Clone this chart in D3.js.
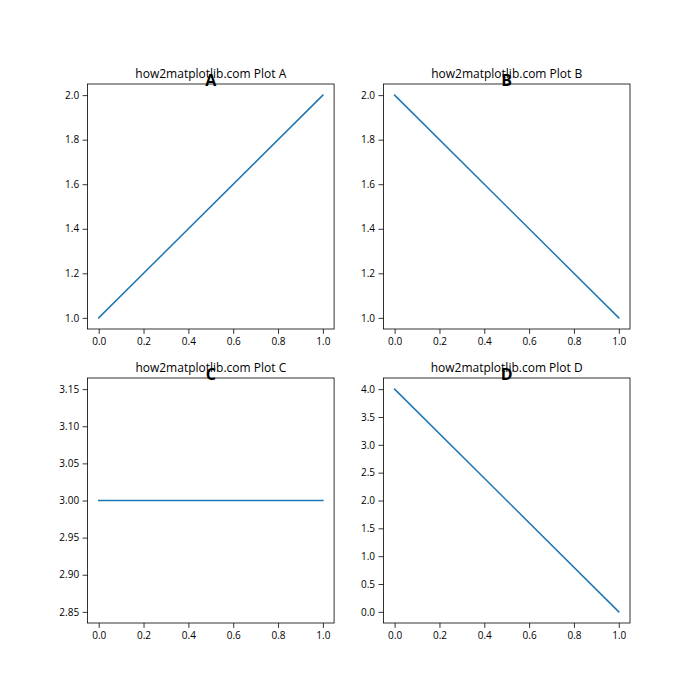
<!DOCTYPE html>
<html><head><meta charset="utf-8">
<script src="https://cdn.jsdelivr.net/npm/d3@7"></script>
<style>body{margin:0;background:#fff}</style>
</head><body>
<svg id="c" width="700" height="700"></svg>
<script>
const xValues = [0, 1];
const seriesA = [1, 2];
const seriesB = [2, 1];
const seriesC = [3, 3];
const seriesD = [4, 0];
const titles = ["how2matplotlib.com Plot A","how2matplotlib.com Plot B","how2matplotlib.com Plot C","how2matplotlib.com Plot D"];
const letters = ["A","B","C","D"];
const xTicks = [0, 0.2, 0.4, 0.6, 0.8, 1.0];
const yTicksA = [1.0, 1.2, 1.4, 1.6, 1.8, 2.0];
const yTicksC = [2.85, 2.90, 2.95, 3.00, 3.05, 3.10, 3.15];
const yTicksD = [0.0, 0.5, 1.0, 1.5, 2.0, 2.5, 3.0, 3.5, 4.0];
const yDomains = [[0.95, 2.05],[0.95, 2.05],[2.835, 3.165],[-0.2, 4.2]];
const yTickSets = [yTicksA, yTicksA, yTicksC, yTicksD];
const yFormats = [".1f", ".1f", ".2f", ".1f"];
const series = [seriesA, seriesB, seriesC, seriesD];

const svg = d3.select("#c");
const font = "'Open Sans', 'Noto Sans', sans-serif";
const w = 246.59, h = 245;
const lefts = [87.5, 383.41], tops = [84, 378];

series.forEach((s, i) => {
  const x0 = lefts[i % 2], y0 = tops[Math.floor(i / 2)];
  const g = svg.append("g").attr("transform", `translate(${x0},${y0})`);
  const xs = d3.scaleLinear().domain([-0.05, 1.05]).range([0, w]);
  const ys = d3.scaleLinear().domain(yDomains[i]).range([h, 0]);
  const line = d3.line().x((d, j) => xs(xValues[j])).y(d => ys(d));
  g.append("path").datum(s).attr("d", line).attr("fill", "none")
    .attr("stroke", "#1f77b4").attr("stroke-width", 1.5).attr("stroke-linecap", "square");
  const xa = g.append("g").attr("transform", `translate(0,${h})`)
    .call(d3.axisBottom(xs).tickValues(xTicks).tickFormat(d3.format(".1f")).tickSize(4.9).tickPadding(3.5));
  const ya = g.append("g")
    .call(d3.axisLeft(ys).tickValues(yTickSets[i]).tickFormat(d3.format(yFormats[i])).tickSize(4.9).tickPadding(3.5));
  [xa, ya].forEach(a => {
    a.select(".domain").remove();
    a.selectAll("line").attr("stroke", "#000").attr("stroke-width", 0.8);
    a.selectAll("text").attr("font-family", font).attr("font-size", 10).attr("fill", "#000");
  });
  g.append("rect").attr("width", w).attr("height", h).attr("fill", "none")
    .attr("stroke", "#000").attr("stroke-width", 0.8);
  g.append("text").attr("x", w / 2).attr("y", -6).attr("text-anchor", "middle")
    .attr("font-family", font).attr("font-size", 12).text(titles[i]);
  g.append("text").attr("x", w / 2).attr("y", 2).attr("text-anchor", "middle")
    .attr("font-family", font).attr("font-size", 16).attr("font-weight", "bold").text(letters[i]);
});
</script>
</body></html>
